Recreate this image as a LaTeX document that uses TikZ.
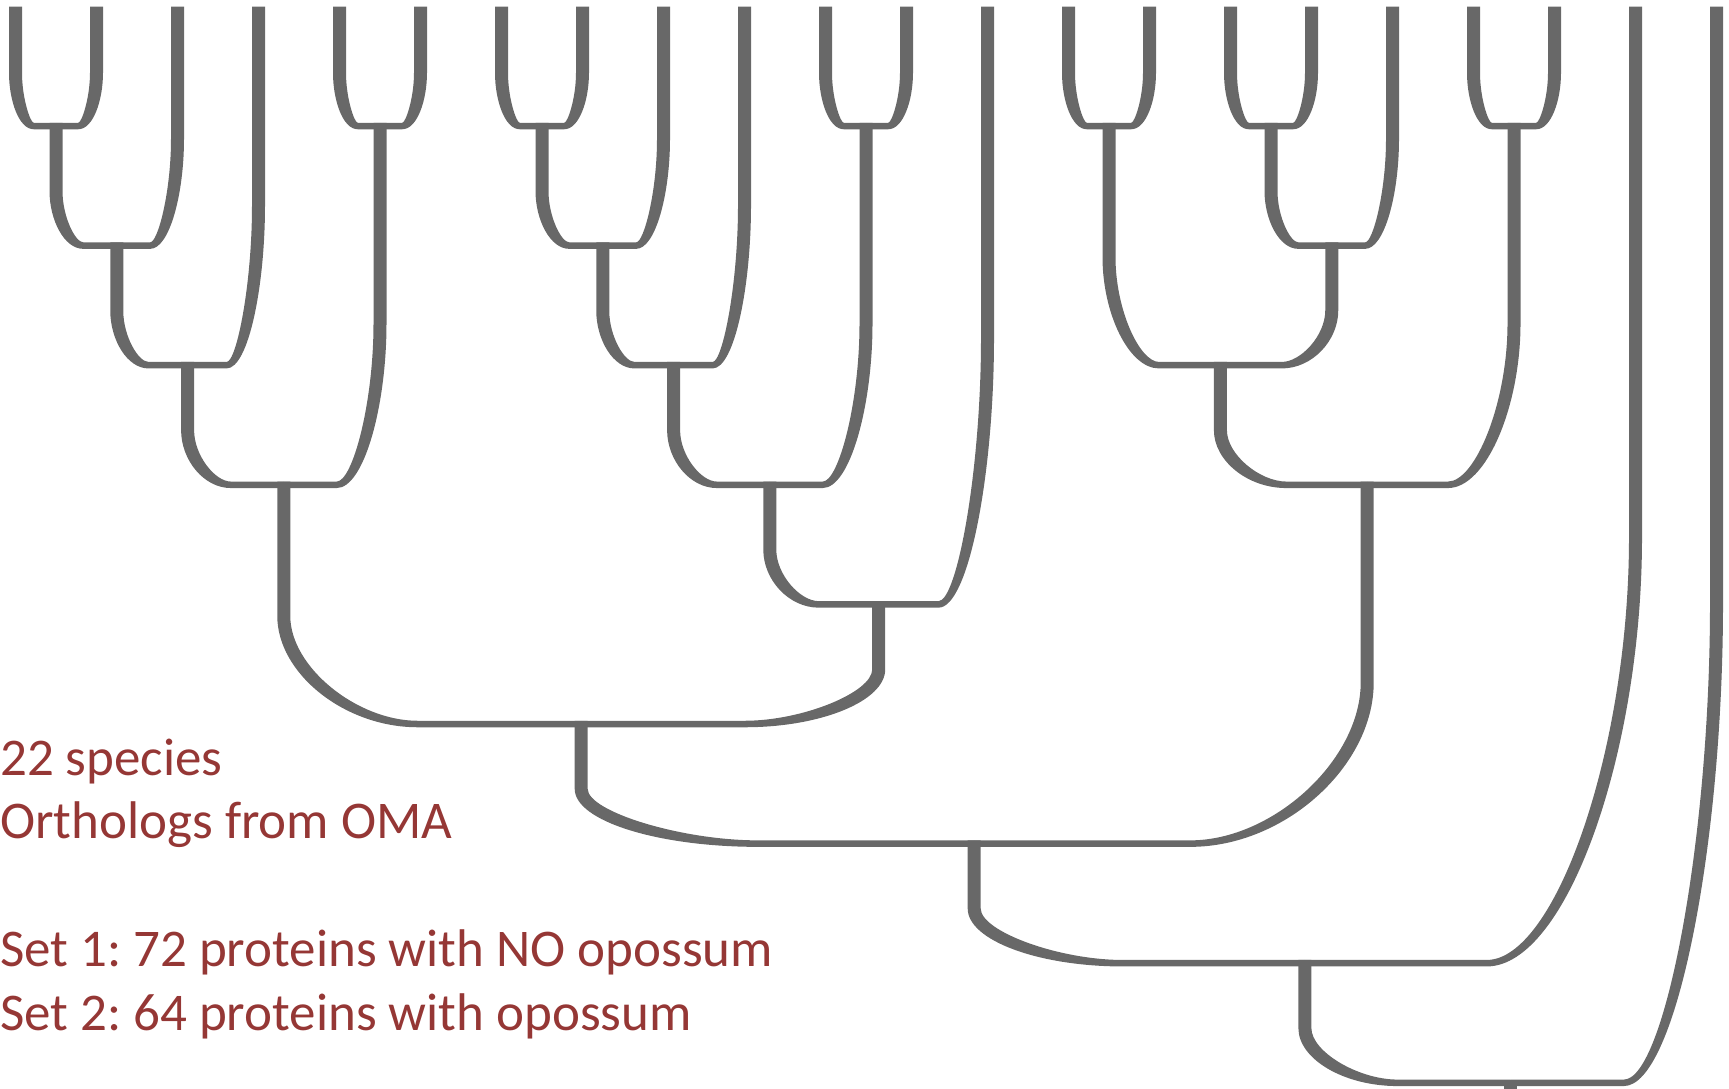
\documentclass[tikz,border=0pt]{standalone}
\usepackage{fontspec}
\setmainfont{Carlito}
\usetikzlibrary{calc}
\definecolor{treegray}{RGB}{104,104,104}
\definecolor{oxred}{RGB}{149,55,53}
\frenchspacing

\begin{document}
\begin{tikzpicture}[
        x=1pt, y=-1pt,
        branch/.style={fill=treegray, to path={
            let \p1=(\tikztostart), \p2=(\tikztotarget),
                \n1={ifthenelse(\x2>\x1,1,-1)},
                \n2={0.445*(\y1-\y2+3.25)},
                \n3={0.45*abs(\x2-\x1)},
                \n4={veclen(\n3,\n2)},
                \n5={(6.5*\n4-6.5*\n2)/\n3},
                \n6={(3.25*\n3-6.5*\n4)/\n2},
                \n7={0.5*\n3+\n6},
                \n8={0.5*\n3-\n6}
            in (\x1-\n1*6.5,\y1+3.25) -- (\x1-\n1*6.5,\y2+\n2)
               .. controls (\x1-\n1*6.5,\y2+0.5*\n2-\n5) and (\x1+\n1*\n7,\y2-3.25)
               .. (\x1+\n1*\n3,\y2-3.25)
               -- (\x2,\y2-3.25) -- (\x2,\y2+3.25) -- (\x1+\n1*\n3,\y2+3.25)
               .. controls (\x1+\n1*\n8,\y2+3.25) and (\x1+\n1*6.5,\y2+0.5*\n2+\n5)
               .. (\x1+\n1*6.5,\y2+\n2)
               -- (\x1+\n1*6.5,\y1+3.25) -- cycle}},
        txt/.style={text=oxred, font=\fontsize{53}{63}\selectfont, inner sep=0pt, anchor=base west}
    ]
    \useasboundingbox (0,0) rectangle (1729,1088);

    % species at the tips
    \foreach \i in {0,...,21}
        \coordinate (s\i) at ({15.5+81*\i},9.75);

    % ancestors
    \coordinate (A) at (56,126);
    \coordinate (B) at (116.75,245.6);
    \coordinate (C) at (187.6,365.2);
    \coordinate (D) at (380,126);
    \coordinate (E) at (283.8,484.8);
    \coordinate (F) at (542,126);
    \coordinate (G) at (602.75,245.6);
    \coordinate (H) at (673.6,365.2);
    \coordinate (I) at (866,126);
    \coordinate (J) at (769.8,484.8);
    \coordinate (K) at (878.7,604.4);
    \coordinate (L) at (581.2,724);
    \coordinate (M) at (1109,126);
    \coordinate (N) at (1271,126);
    \coordinate (O) at (1331.75,245.6);
    \coordinate (P) at (1220.4,365.2);
    \coordinate (Q) at (1514,126);
    \coordinate (R) at (1367.2,484.8);
    \coordinate (S) at (974.2,843.6);
    \coordinate (T) at (1304.9,963.2);
    \coordinate (U) at (1510.7,1082.8);

    % branches
    \foreach \kid/\anc in {s0/A, s1/A, A/B, s2/B, B/C, s3/C, s4/D, s5/D, C/E, D/E,
                       s6/F, s7/F, F/G, s8/G, G/H, s9/H, s10/I, s11/I, H/J, I/J,
                       J/K, s12/K, E/L, K/L, s13/M, s14/M, s15/N, s16/N, N/O, s17/O,
                       M/P, O/P, s18/Q, s19/Q, P/R, Q/R, L/S, R/S, S/T, s20/T,
                       T/U, s21/U}
        \fill[branch] (\kid) to (\anc);
    \fill[treegray] ([xshift=-6.5pt,yshift=3.25pt]U) rectangle ([xshift=6.5pt,yshift=-20pt]U);

    % legend
    \node[txt] (species) at (0,775) {22 species};
    \node[txt] (orthologs) at (0,838.5) {Orthologs from OMA};
    \node[txt] (set1) at (0,966.5) {Set 1: 72 proteins with NO opossum};
    \node[txt] (set2) at (0,1030) {Set 2: 64 proteins with opossum};
\end{tikzpicture}
\end{document}
